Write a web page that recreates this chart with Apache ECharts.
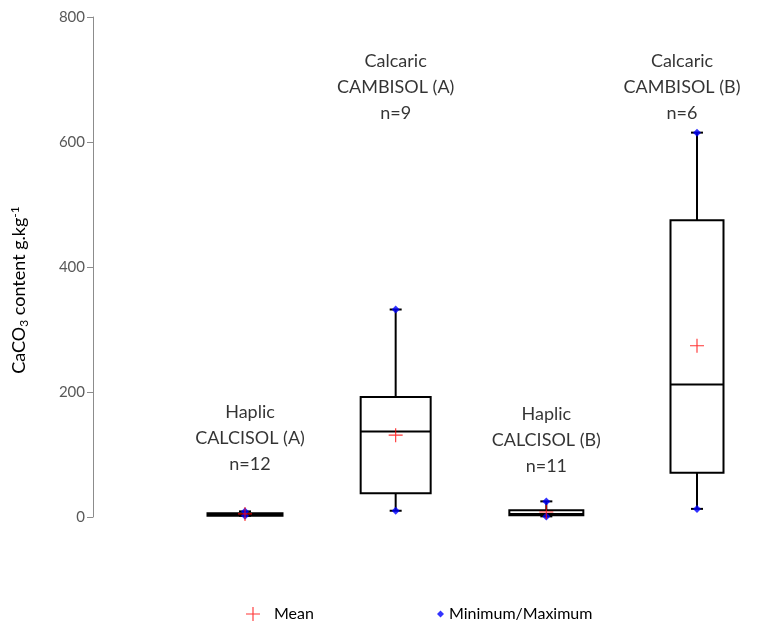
<!DOCTYPE html>
<html>
<head>
<meta charset="utf-8">
<script src="https://cdn.jsdelivr.net/npm/echarts@6/dist/echarts.min.js"></script>
<style>
  html, body { margin: 0; padding: 0; background: #fff; }
  #chart { width: 758px; height: 625px; }
</style>
</head>
<body>
<div id="chart"></div>
<script>
// soil groups and their CaCO3 stats (g/kg)
const categories = ['Haplic CALCISOL (A)', 'Calcaric CAMBISOL (A)', 'Haplic CALCISOL (B)', 'Calcaric CAMBISOL (B)'];
const sampleSizes = [12, 9, 11, 6];
const minValues = [2, 10, 1, 13];
const q1Values = [2, 38, 3, 71];
const medianValues = [4, 137, 5, 212];
const q3Values = [6, 192, 11, 475];
const maxValues = [9, 332, 25, 615];
const meanValues = [5, 131, 8, 274];
const yTicks = [0, 200, 400, 600, 800];

// layout helpers (not data)
const boxWidths = [75, 70, 74, 53];
const labelAnchors = [126, 688, 123, 688];
const labelShift = [5, 0, 0, -15];
const FONT = 'Lato';
const PLUS = 'path://M4.6,0H5.4V4.6H10V5.4H5.4V10H4.6V5.4H0V4.6H4.6Z';

const chart = echarts.init(document.getElementById('chart'));

const boxData = categories.map((c, i) => [i, minValues[i], q1Values[i], medianValues[i], q3Values[i], maxValues[i]]);
const meanData = categories.map((c, i) => [i, meanValues[i]]);
const extremeData = [];
categories.forEach((c, i) => {
  extremeData.push([i, minValues[i]]);
  extremeData.push([i, maxValues[i]]);
});
const labelData = categories.map((c, i) => {
  const sp = c.indexOf(' ');
  return {
    value: [i, labelAnchors[i]],
    text: c.slice(0, sp) + '\n' + c.slice(sp + 1) + '\nn=' + sampleSizes[i],
    label: { offset: [labelShift[i], 0] }
  };
});

function renderBox(params, api) {
  const i = api.value(0);
  const x = api.coord([i, 0])[0];
  const yMin = api.coord([i, api.value(1)])[1];
  const yQ1 = api.coord([i, api.value(2)])[1];
  const yMed = api.coord([i, api.value(3)])[1];
  const yQ3 = api.coord([i, api.value(4)])[1];
  const yMax = api.coord([i, api.value(5)])[1];
  const hw = boxWidths[i] / 2;
  const cap = 6;
  const st = { stroke: '#000', lineWidth: 2, fill: null };
  return {
    type: 'group',
    children: [
      { type: 'line', shape: { x1: x, y1: yQ1, x2: x, y2: yMin }, style: st },
      { type: 'line', shape: { x1: x, y1: yQ3, x2: x, y2: yMax }, style: st },
      { type: 'line', shape: { x1: x - cap, y1: yMin, x2: x + cap, y2: yMin }, style: st },
      { type: 'line', shape: { x1: x - cap, y1: yMax, x2: x + cap, y2: yMax }, style: st },
      { type: 'rect', shape: { x: x - hw, y: yQ3, width: hw * 2, height: yQ1 - yQ3 },
        style: { stroke: '#000', lineWidth: 2, fill: '#fff' } },
      { type: 'line', shape: { x1: x - hw, y1: yMed, x2: x + hw, y2: yMed }, style: st }
    ]
  };
}

const yBase = {
  type: 'value',
  min: 0,
  max: 800,
  interval: 200,
  offset: 152
};

const option = {
  animation: false,
  backgroundColor: '#fff',
  textStyle: { fontFamily: FONT },
  grid: { left: 245, right: 61, top: 17, bottom: 108 },
  xAxis: {
    type: 'category',
    boundaryGap: false,
    data: categories,
    axisLine: { show: false },
    axisTick: { show: false },
    axisLabel: { show: false },
    splitLine: { show: false }
  },
  yAxis: [
    Object.assign({}, yBase, {
      name: '{n|CaCO}{sub|3}{n| content g.kg}{sup|-1}',
      nameLocation: 'middle',
      nameGap: 63,
      nameRotate: 90,
      nameTextStyle: {
        padding: [0, 46, 0, 0],
        rich: {
          n: { fontSize: 18, color: '#000', fontFamily: FONT },
          sub: { fontSize: 12, color: '#000', fontFamily: FONT, padding: [9, 0, 0, 0] },
          sup: { fontSize: 12, color: '#000', fontFamily: FONT, padding: [0, 0, 9, 0] }
        }
      },
      axisLine: { show: true, lineStyle: { color: '#8c8c8c', width: 1 } },
      axisTick: { show: true, length: 6, lineStyle: { color: '#8c8c8c' } },
      axisLabel: {
        color: '#595959',
        fontSize: 15,
        fontFamily: FONT,
        margin: 8,
        formatter: v => (yTicks.indexOf(v) >= 0 ? String(v) : '')
      },
      splitLine: { show: false }
    }),
    Object.assign({}, yBase, {
      axisLine: { show: false },
      axisTick: { show: true, inside: true, length: 6, lineStyle: { color: '#8c8c8c' } },
      axisLabel: { show: false },
      splitLine: { show: false }
    })
  ],
  legend: [
    {
      left: 246, top: 606, padding: 0,
      itemWidth: 14, itemHeight: 14,
      data: [{ name: 'Mean', icon: PLUS }],
      textStyle: { fontSize: 16, color: '#000', fontFamily: FONT, padding: [0, 0, 0, 9] }
    },
    {
      left: 437, top: 606, padding: 0,
      itemWidth: 7, itemHeight: 7,
      data: [{ name: 'Minimum/Maximum', icon: 'diamond' }],
      textStyle: { fontSize: 16, color: '#000', fontFamily: FONT }
    }
  ],
  series: [
    {
      name: 'box',
      type: 'custom',
      renderItem: renderBox,
      encode: { x: 0, y: [1, 2, 3, 4, 5] },
      data: boxData,
      clip: false,
      z: 2
    },
    {
      name: 'Minimum/Maximum',
      type: 'scatter',
      symbol: 'diamond',
      symbolSize: 8,
      itemStyle: { color: '#0000ff' },
      data: extremeData,
      z: 3
    },
    {
      name: 'Mean',
      type: 'scatter',
      symbol: PLUS,
      symbolSize: 14,
      itemStyle: { color: '#ff0000' },
      data: meanData,
      z: 4
    },
    {
      name: 'labels',
      type: 'scatter',
      symbolSize: 0,
      silent: true,
      data: labelData,
      label: {
        show: true,
        position: 'inside',
        align: 'center',
        verticalAlign: 'middle',
        fontSize: 18,
        lineHeight: 26,
        color: '#000',
        fontFamily: FONT,
        formatter: p => p.data.text
      }
    }
  ]
};

chart.setOption(option);
</script>
</body>
</html>
